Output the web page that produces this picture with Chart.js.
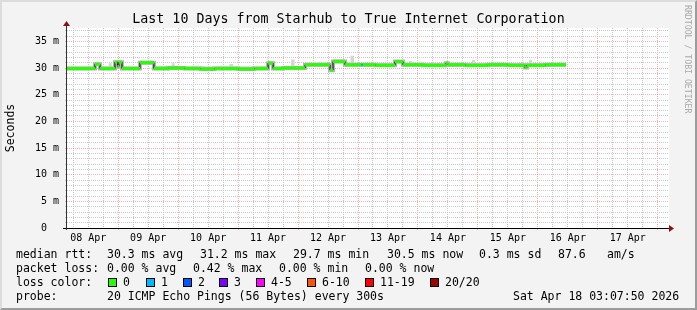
<!DOCTYPE html>
<html>
<head>
<meta charset="utf-8">
<script src="https://cdn.jsdelivr.net/npm/chart.js@4.4.1/dist/chart.umd.min.js"></script>
<style>
html, body { margin: 0; padding: 0; background: #f3f3f3; }
#wrap { position: relative; width: 697px; height: 310px; overflow: hidden; font-family: 'DejaVu Sans Mono', monospace; }
#c { position: absolute; left: 0; top: 0; }
#title { position: absolute; left: 0; top: 11px; width: 697px; text-align: center; font-size: 13.3px; line-height: 16px; color: #000; white-space: pre; }
#frame { position: absolute; left: 0; top: 0; width: 697px; height: 310px; box-sizing: border-box;
  border-top: 2px solid #dcdcdc; border-left: 2px solid #dcdcdc;
  border-right: 2px solid #9c9c9c; border-bottom: 2px solid #9c9c9c; pointer-events: none; }
.t { position: absolute; font-size: 11.5px; line-height: 14px; white-space: pre; color: #000; }
.box { position: absolute; width: 7px; height: 7px; border: 1px solid #000; }
</style>
</head>
<body>
<div id="wrap">
  <canvas id="c" width="697" height="310"></canvas>
  <div id="title"></div>
  <div id="legend"></div>
  <div id="frame"></div>
</div>
<script>
const MONO = "'DejaVu Sans Mono', monospace"

const titleText = 'Last 10 Days from Starhub to True Internet Corporation'

// hours counted from 08 Apr 00:00, values in ms
const medianHours = [3.2, 14.7, 16.7, 22.7, 23.7, 24.3, 25.5, 32.7, 38.3, 44.0, 50.5, 57.0, 62.5, 72.0, 78.5, 84.0, 86.0, 90.0, 98.8, 108.8, 110.0, 114.8, 121.4, 121.9, 127.0, 134.8, 138.0, 146.0, 155.2, 156.0, 163.0, 172.0, 180.0, 186.8, 187.6, 195.0, 203.3]
const medianMs    = [29.9, 30.7, 29.9, 31.1, 30.3, 31.1, 29.9, 31.0, 29.9, 30.0, 29.9, 29.8, 29.9, 29.8, 29.9, 30.9, 29.9, 30.0, 30.6, 29.6, 31.2, 30.6, 30.6, 30.6, 30.5, 31.2, 30.6, 30.5, 30.9, 30.6, 30.5, 30.6, 30.5, 30.1, 30.5, 30.6, 30.6]
const medianLoss  = [0, 0, 0, 0, 0, 0, 0, 0, 0, 0, 0, 0, 0, 0, 0, 0, 0, 0, 0, 0, 0, 0, 1, 0, 0, 0, 0, 0, 0, 0, 0, 0, 0, 0, 0, 0, 0]

const smokeHiHours = [3.2, 14.7, 16.7, 20.2, 21.4, 22.7, 25.5, 32.7, 38.3, 45.4, 46.6, 68.5, 70.0, 84.0, 86.0, 93.2, 94.6, 98.8, 108.8, 110.0, 114.8, 117.0, 118.4, 129.5, 131.0, 134.8, 138.0, 140.4, 141.6, 165.6, 166.8, 188.4, 189.6, 203.3]
const smokeHiMs    = [30.3, 31.0, 30.3, 30.9, 30.3, 31.4, 30.3, 31.4, 30.4, 30.9, 30.35, 30.75, 30.35, 31.2, 30.3, 31.6, 30.3, 31.0, 30.2, 31.7, 30.9, 32.3, 30.9, 31.0, 30.9, 31.5, 30.9, 31.3, 30.9, 31.5, 30.9, 31.5, 30.9, 30.9]
const smokeLoHours = [3.2, 14.7, 16.7, 22.7, 25.5, 32.7, 38.3, 84.0, 86.0, 98.8, 108.8, 110.0, 114.8, 134.8, 138.0, 186.0, 188.0, 203.3]
const smokeLoMs    = [29.6, 30.4, 29.6, 30.8, 29.6, 30.7, 29.6, 30.6, 29.6, 30.3, 29.3, 30.9, 30.2, 30.8, 30.2, 29.9, 30.2, 30.2]

const dayLabels = ['08 Apr', '09 Apr', '10 Apr', '11 Apr', '12 Apr', '13 Apr', '14 Apr', '15 Apr', '16 Apr', '17 Apr']
const yTickValues = [0, 5, 10, 15, 20, 25, 30, 35]
const yTickLabels = ['0  ', '5 m', '10 m', '15 m', '20 m', '25 m', '30 m', '35 m']

const lossLabels = ['0', '1', '2', '3', '4-5', '6-10', '11-19', '20/20']
const lossColors = ['#26ff00', '#00b8ff', '#0059ff', '#7e00ff', '#ff00ff', '#ff5500', '#ff0000', '#a10000']

const statRows = [
  [[16, 'median rtt:'], [107, '30.3 ms avg'], [200, '31.2 ms max'], [293, '29.7 ms min'], [387, '30.5 ms now'], [479, '0.3 ms sd'], [558, '87.6'], [607, 'am/s']],
  [[16, 'packet loss:'], [107, '0.00 % avg'], [193, '0.42 % max'], [279, '0.00 % min'], [365, '0.00 % now']],
  [[16, 'loss color:']],
  [[16, 'probe:'], [107, '20 ICMP Echo Pings (56 Bytes) every 300s'], [513, 'Sat Apr 18 03:07:50 2026']]
]
const lossBoxX = [108, 146, 183, 219, 256, 307, 365, 430]

document.getElementById('title').textContent = titleText

// legend text under the graph
const legend = document.getElementById('legend')
statRows.forEach((row, r) => {
  row.forEach(([x, txt]) => {
    const s = document.createElement('span')
    s.className = 't'
    s.style.left = x + 'px'
    s.style.top = (247 + r * 14) + 'px'
    s.textContent = txt
    legend.appendChild(s)
  })
})
lossLabels.forEach((lab, i) => {
  const b = document.createElement('span')
  b.className = 'box'
  b.style.left = lossBoxX[i] + 'px'
  b.style.top = '278px'
  b.style.background = lossColors[i]
  legend.appendChild(b)
  const s = document.createElement('span')
  s.className = 't'
  s.style.left = (lossBoxX[i] + 15) + 'px'
  s.style.top = '275px'
  s.textContent = lab
  legend.appendChild(s)
})

const toPts = (xs, ys) => xs.map((x, i) => ({x: x, y: ys[i]}))

// loss coloured median: one flat piece per sample, gaps at the steps
const lossPts = []
for (let i = 0; i < medianHours.length - 1; i++) {
  lossPts.push({x: medianHours[i], y: medianMs[i]}, {x: medianHours[i + 1], y: medianMs[i]}, {x: medianHours[i + 1], y: null})
}

const majorGrid = 'rgba(255,70,70,0.42)'
const minorGrid = '#cacaca'

const rrdDecor = {
  id: 'rrdDecor',
  beforeDraw(chart) {
    const {ctx, chartArea: a} = chart
    ctx.save()
    ctx.fillStyle = '#ffffff'
    ctx.fillRect(a.left, a.top, a.right - a.left, a.bottom - a.top)
    ctx.restore()
  },
  afterDraw(chart) {
    const {ctx, chartArea: a} = chart
    ctx.save()
    // axes
    ctx.fillStyle = '#000'
    ctx.fillRect(a.left - 4, a.bottom, a.right - a.left + 5, 1)
    ctx.fillStyle = '#333'
    ctx.fillRect(a.left - 1, a.top - 4, 1, a.bottom - a.top + 6)
    // arrows
    ctx.fillStyle = '#8a1414'
    ctx.beginPath()
    ctx.moveTo(a.left - 0.5, a.top - 7)
    ctx.lineTo(a.left - 4, a.top - 2)
    ctx.lineTo(a.left + 3, a.top - 2)
    ctx.closePath()
    ctx.fill()
    ctx.beginPath()
    ctx.moveTo(a.right + 5, a.bottom + 0.5)
    ctx.lineTo(a.right, a.bottom - 3)
    ctx.lineTo(a.right, a.bottom + 4)
    ctx.closePath()
    ctx.fill()
    // watermark
    ctx.translate(chart.width - 9.5, 5)
    ctx.rotate(Math.PI / 2)
    ctx.font = '8.2px ' + MONO
    ctx.fillStyle = '#a9a9a9'
    ctx.textBaseline = 'middle'
    ctx.fillText('RRDTOOL / TOBI OETIKER', 0, 0)
    ctx.restore()
  }
}

const config = {
  type: 'line',
  data: {
    datasets: [
      {
        label: 'loss colour',
        data: lossPts,
        borderColor: lossColors[0],
        segment: { borderColor: c => lossColors[medianLoss[Math.floor(c.p0DataIndex / 3)]] },
        borderWidth: 3,
        borderCapStyle: 'butt',
        pointRadius: 0,
        spanGaps: false,
        order: 0
      },
      {
        label: 'median',
        data: toPts(medianHours, medianMs),
        stepped: true,
        borderColor: '#000',
        borderWidth: 1,
        pointRadius: 0,
        order: 1
      },
      {
        label: 'smoke core',
        data: toPts(medianHours, medianMs),
        stepped: true,
        borderColor: '#b4b4b4',
        borderWidth: 4,
        pointRadius: 0,
        order: 2
      },
      {
        label: 'smoke max',
        data: toPts(smokeHiHours, smokeHiMs),
        stepped: true,
        borderColor: 'transparent',
        borderWidth: 1,
        backgroundColor: '#d6d6d6',
        fill: 4,
        pointRadius: 0,
        order: 3
      },
      {
        label: 'smoke min',
        data: toPts(smokeLoHours, smokeLoMs),
        stepped: true,
        borderColor: 'transparent',
        borderWidth: 1,
        pointRadius: 0,
        order: 4
      }
    ]
  },
  options: {
    responsive: false,
    animation: false,
    devicePixelRatio: 1,
    layout: { padding: { left: 0, right: 28, top: 28, bottom: 0 } },
    plugins: {
      legend: { display: false },
      tooltip: { enabled: false },
      title: { display: false }
    },
    scales: {
      x: {
        type: 'linear',
        min: 3.5,
        max: 244.5,
        afterBuildTicks: s => {
          s.ticks = []
          for (let h = 6; h <= 240; h += 6) s.ticks.push({value: h})
        },
        afterFit: s => { s.height = 82; s.paddingLeft = 0; s.paddingRight = 0 },
        grid: {
          color: c => (c.tick && c.tick.value % 24 === 0) ? majorGrid : minorGrid,
          tickColor: c => (c.tick && c.tick.value % 24 === 0) ? majorGrid : 'transparent',
          lineWidth: 1,
          tickLength: 2
        },
        border: { display: false, dash: [1, 1] },
        ticks: {
          autoSkip: false,
          maxRotation: 0,
          padding: 2,
          color: '#000',
          font: { family: MONO, size: 10 },
          callback: v => (v % 24 === 12) ? dayLabels[(v - 12) / 24] : ''
        }
      },
      y: {
        min: 0,
        max: 37.5,
        afterBuildTicks: s => {
          s.ticks = []
          for (let v = 0; v <= 37; v++) s.ticks.push({value: v})
        },
        afterFit: s => { s.width = 67; s.paddingTop = 0; s.paddingBottom = 0 },
        grid: {
          color: c => (c.tick && c.tick.value % 5 === 0) ? majorGrid : minorGrid,
          tickColor: c => (c.tick && c.tick.value % 5 === 0) ? majorGrid : minorGrid,
          lineWidth: 1,
          tickLength: 2
        },
        border: { display: false, dash: [1, 1] },
        ticks: {
          autoSkip: false,
          padding: 6,
          color: '#000',
          font: { family: MONO, size: 10 },
          callback: v => {
            const i = yTickValues.indexOf(v)
            return i >= 0 ? yTickLabels[i] : ''
          }
        },
        title: {
          display: true,
          text: 'Seconds',
          color: '#000',
          font: { family: MONO, size: 11.5 },
          padding: { top: 4, bottom: 0 }
        }
      }
    }
  },
  plugins: [rrdDecor]
}

const myChart = new Chart(document.getElementById('c'), config)
</script>
</body>
</html>
